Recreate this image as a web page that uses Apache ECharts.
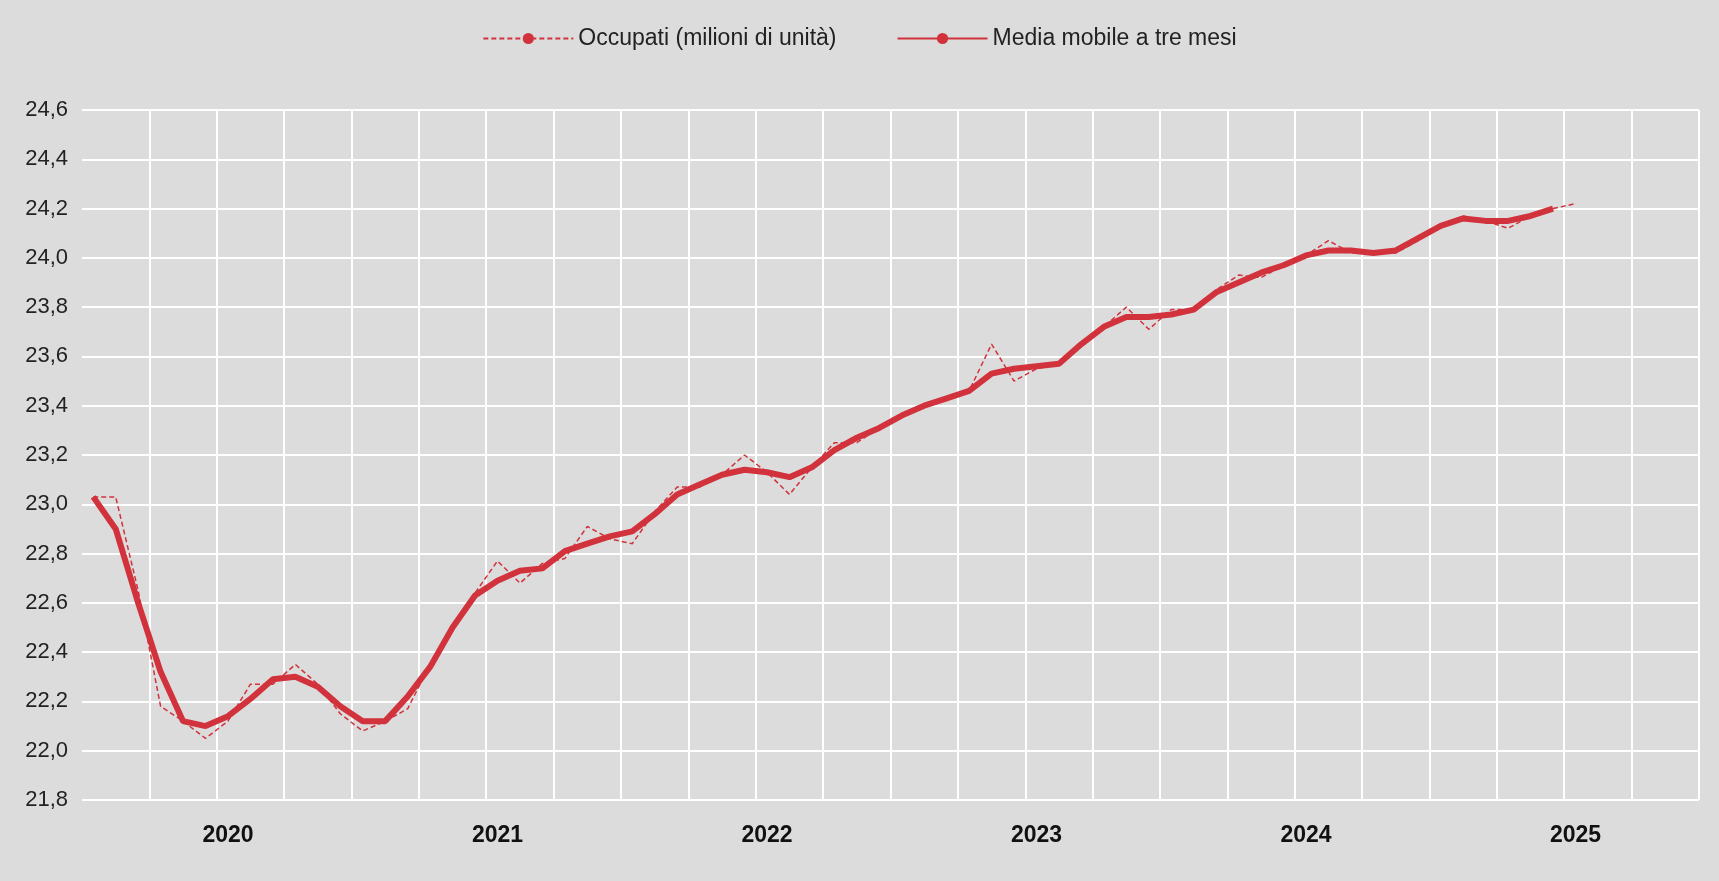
<!DOCTYPE html>
<html>
<head>
<meta charset="utf-8">
<script src="https://cdn.jsdelivr.net/npm/echarts@6/dist/echarts.min.js"></script>
<style>
html,body{margin:0;padding:0;background:#dcdcdc;}
#chart{width:1719px;height:881px;}
</style>
</head>
<body>
<div id="chart"></div>
<script>
var years = ['2020', '2021', '2022', '2023', '2024', '2025'];
var occupati = [23.03, 23.03, 22.65, 22.18, 22.12, 22.05, 22.12, 22.27, 22.27, 22.35, 22.27, 22.15,
  22.08, 22.12, 22.17, 22.35, 22.50, 22.64, 22.77, 22.68, 22.76, 22.78, 22.91, 22.86,
  22.84, 22.97, 23.07, 23.07, 23.12, 23.20, 23.13, 23.04, 23.15, 23.25, 23.25, 23.31,
  23.36, 23.40, 23.43, 23.46, 23.65, 23.50, 23.55, 23.57, 23.65, 23.72, 23.80, 23.71,
  23.79, 23.79, 23.87, 23.93, 23.92, 23.97, 24.01, 24.07, 24.02, 24.02, 24.02, 24.07,
  24.13, 24.17, 24.15, 24.12, 24.17, 24.20, 24.22];
var mediaMobile = [23.03, 22.90, 22.60, 22.32, 22.12, 22.10, 22.14, 22.21, 22.29, 22.30, 22.26, 22.18,
  22.12, 22.12, 22.22, 22.34, 22.50, 22.63, 22.69, 22.73, 22.74, 22.81, 22.84, 22.87,
  22.89, 22.96, 23.04, 23.08, 23.12, 23.14, 23.13, 23.11, 23.15, 23.22, 23.27, 23.31,
  23.36, 23.40, 23.43, 23.46, 23.53, 23.55, 23.56, 23.57, 23.65, 23.72, 23.76, 23.76,
  23.77, 23.79, 23.86, 23.90, 23.94, 23.97, 24.01, 24.03, 24.03, 24.02, 24.03, 24.08,
  24.13, 24.16, 24.15, 24.15, 24.17, 24.20, null];

// 72 monthly slots (six years), only the first ones carry data
var months = [];
for (var i = 0; i < 72; i++) months.push('m' + i);

var font = 'Liberation Sans Narrow, Liberation Sans, sans-serif';
var red = '#d1323c';

var chart = echarts.init(document.getElementById('chart'));
chart.setOption({
  backgroundColor: '#dcdcdc',
  animation: false,
  legend: {
    top: 22,
    left: 'center',
    itemGap: 60,
    itemWidth: 90,
    itemHeight: 14,
    textStyle: { fontFamily: font, fontSize: 23, color: '#222' },
    data: ['Occupati (milioni di unità)', 'Media mobile a tre mesi']
  },
  grid: { left: 82, right: 20, top: 110, bottom: 81 },
  xAxis: {
    type: 'category',
    data: months,
    boundaryGap: true,
    axisLine: { show: false },
    axisTick: { show: false },
    splitLine: {
      show: true,
      interval: function (i) { return i % 3 === 0 && i > 0; },
      lineStyle: { color: '#ffffff', width: 2 }
    },
    axisLabel: {
      interval: function (i) { return i % 12 === 6; },
      formatter: function (v, i) { return years[Math.floor(i / 12)]; },
      fontFamily: font, fontSize: 23, fontWeight: 'bold', color: '#111', margin: 24
    }
  },
  yAxis: {
    type: 'value',
    min: 21.8, max: 24.6, interval: 0.2,
    axisLine: { show: false },
    axisTick: { show: false },
    splitLine: { lineStyle: { color: '#ffffff', width: 2 } },
    axisLabel: {
      formatter: function (v) { return v.toFixed(1).replace('.', ','); },
      fontFamily: font, fontSize: 22, color: '#222', margin: 14
    }
  },
  series: [{
    name: 'Occupati (milioni di unità)',
    type: 'line',
    data: occupati,
    symbol: 'none',
    lineStyle: { color: red, width: 1.5, type: [5, 3] },
    itemStyle: { color: red },
    z: 3
  }, {
    name: 'Media mobile a tre mesi',
    type: 'line',
    data: mediaMobile,
    symbol: 'none',
    lineStyle: { color: red, width: 6 },
    itemStyle: { color: red },
    z: 2
  }]
});
</script>
</body>
</html>
